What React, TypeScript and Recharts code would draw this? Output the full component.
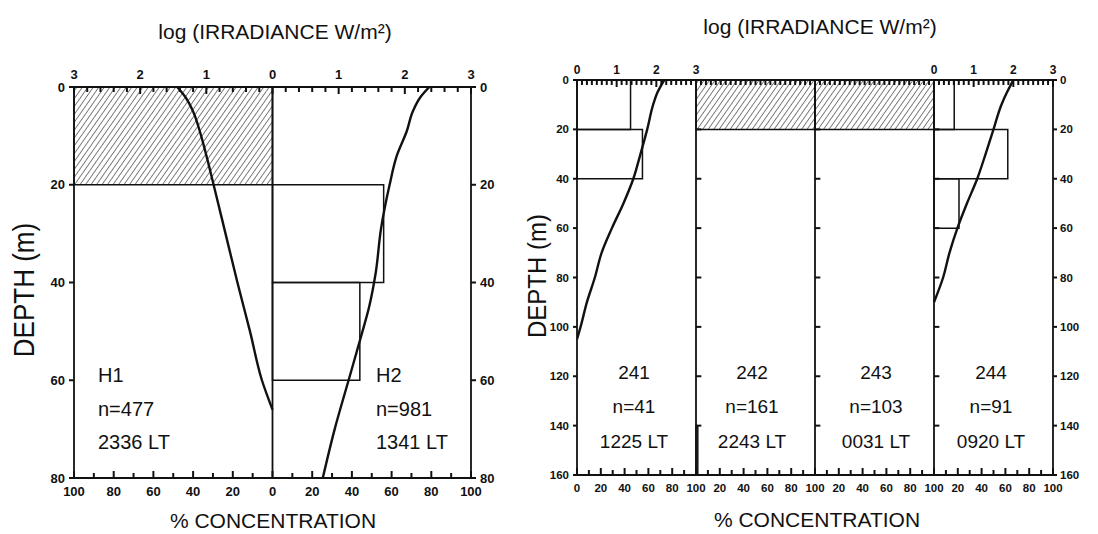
import React from 'react';
import { ComposedChart, XAxis, YAxis, Scatter, ReferenceArea, ReferenceLine } from 'recharts';

// left figure: H1 (mirrored to the left of 0) and H2
const h1Depth = [0, 2, 5, 9, 14, 20, 30, 40, 50, 60, 66];
const h1LogIrr = [1.44, 1.32, 1.2, 1.1, 1.0, 0.89, 0.71, 0.53, 0.34, 0.16, 0];
const h2Depth = [0, 2, 5, 9, 14, 20, 29, 38, 45, 50, 60, 70, 80];
const h2LogIrr = [2.37, 2.24, 2.12, 2.03, 1.88, 1.77, 1.64, 1.56, 1.46, 1.36, 1.15, 0.94, 0.76];

const leftBinEdges = [0, 20, 40, 60, 80];
const h1Pct = [100, 0, 0, 0];
const h2Pct = [0, 56, 44, 0];

// right figure: stations 241..244, depth bins of 20 m
const rightBinEdges = [0, 20, 40, 60, 80, 100, 120, 140, 160];
const s241Pct = [45, 55, 0, 0, 0, 0, 0, 0];
const s242Pct = [100, 0, 0, 0, 0, 0, 0, 1.5];
const s243Pct = [100, 0, 0, 0, 0, 0, 0, 0];
const s244Pct = [17, 62, 21, 0, 0, 0, 0, 0];

const s241Depth = [0, 5, 10, 20, 30, 40, 50, 60, 70, 80, 90, 100, 105];
const s241LogIrr = [2.2, 2.03, 1.92, 1.77, 1.6, 1.42, 1.17, 0.88, 0.62, 0.45, 0.25, 0.09, 0];
const s244Depth = [0, 5, 10, 20, 30, 40, 50, 60, 70, 80, 90];
const s244LogIrr = [2.0, 1.84, 1.7, 1.5, 1.3, 1.09, 0.83, 0.59, 0.39, 0.23, 0];

const stationNames = ['241', '242', '243', '244'];
const stationCounts = ['n=41', 'n=161', 'n=103', 'n=91'];
const stationTimes = ['1225 LT', '2243 LT', '0031 LT', '0920 LT'];

// axis ticks and labels
const leftDepthTicks = [0, 20, 40, 60, 80];
const rightDepthTicks = [0, 20, 40, 60, 80, 100, 120, 140, 160];
const leftConcMajor = [-100, -80, -60, -40, -20, 0, 20, 40, 60, 80, 100];
const leftConcLabels = ['100', '80', '60', '40', '20', '0', '20', '40', '60', '80', '100'];
const leftLogMajor = [-3, -2, -1, 0, 1, 2, 3];
const leftLogLabels = ['3', '2', '1', '0', '1', '2', '3'];
const rightLogMajor = [0, 1, 2, 3, 9, 10, 11, 12];
const rightLogLabels = ['0', '1', '2', '3', '0', '1', '2', '3'];

const steps = (a: number, b: number, s: number) => {
  const out: number[] = [];
  for (let i = 0; a + i * s <= b + 1e-9; i++) out.push(Math.round((a + i * s) * 1000) / 1000);
  return out;
};
const leftLogTicks = steps(-3, 3, 0.2);
const leftConcTicks = steps(-100, 100, 10);
const rightLogTicks = steps(0, 12, 0.125);
const rightConcTicks = steps(0, 400, 10);

const lookup = (major: number[], labels: string[]) => (v: number) => {
  const i = major.findIndex((m) => Math.abs(m - v) < 1e-6);
  return i >= 0 ? labels[i] : '';
};
const rightConcLabel = (v: number) =>
  v % 20 !== 0 ? '' : v === 0 ? '0' : v % 100 === 0 ? '100' : String(v % 100);

const INK = '#111';
const FONT = '"Liberation Sans", Arial, Helvetica, sans-serif';
const AXIS = { stroke: INK, strokeWidth: 1.8 };
const TICK = { stroke: INK, strokeWidth: 2 };
const LINE = { stroke: INK, strokeWidth: 2.4 };

const topTick = (label: (v: number) => string, fs: number, gap: number) => (p: any) => {
  const t = label(p.payload.value);
  return (
    <g>
      <path d={`M${p.x},${p.y}V${p.y + (t ? 7 : 5)}`} stroke={INK} strokeWidth={2} fill="none" />
      {t ? (
        <text x={p.x} y={p.y - gap} textAnchor="middle" fontSize={fs} fontWeight={700} fill={INK} fontFamily={FONT}>
          {t}
        </text>
      ) : null}
    </g>
  );
};

const bottomTick = (label: (v: number) => string, fs: number, gap: number) => (p: any) => {
  const t = label(p.payload.value);
  return (
    <g>
      <path d={`M${p.x},${p.y}V${p.y - (t ? 7 : 5)}`} stroke={INK} strokeWidth={2} fill="none" />
      {t ? (
        <text x={p.x} y={p.y + gap} textAnchor="middle" fontSize={fs} fontWeight={700} fill={INK} fontFamily={FONT}>
          {t}
        </text>
      ) : null}
    </g>
  );
};

const noDot = () => <g />;

const curve = (depth: number[], logI: number[], sign: number, offset: number) =>
  depth.map((d, i) => ({ depth: d, log: offset + sign * logI[i] }));

const bins = (key: string, edges: number[], pct: number[], sign: number, offset: number, hatchTop: boolean) =>
  pct.map((p, i) =>
    p > 0 ? (
      <ReferenceArea
        key={`${key}-${i}`}
        xAxisId="conc"
        yAxisId="d"
        x1={offset}
        x2={offset + sign * p}
        y1={edges[i]}
        y2={edges[i + 1]}
        fill={hatchTop && i === 0 ? 'url(#hatch)' : 'none'}
        fillOpacity={1}
        stroke={INK}
        strokeWidth={1.5}
        ifOverflow="visible"
      />
    ) : null
  );

function LeftFigure() {
  const h1 = curve(h1Depth, h1LogIrr, -1, 0);
  const h2 = curve(h2Depth, h2LogIrr, 1, 0);
  const depthTick = { fontSize: 13, fontWeight: 700, fill: INK, fontFamily: FONT };
  return (
    <ComposedChart width={540} height={534} margin={{ top: 63, right: 39, bottom: 32, left: 44 }}>
      {bins('h1', leftBinEdges, h1Pct, -1, 0, true)}
      {bins('h2', leftBinEdges, h2Pct, 1, 0, false)}
      <ReferenceLine xAxisId="conc" yAxisId="d" x={0} stroke={INK} strokeWidth={1.8} ifOverflow="visible" />
      <XAxis xAxisId="log" dataKey="log" type="number" orientation="top" domain={[-3, 3]} allowDataOverflow
        ticks={leftLogTicks} interval={0} height={24} tickSize={0} tickMargin={0} tickLine={false}
        axisLine={AXIS} tick={topTick(lookup(leftLogMajor, leftLogLabels), 13, 8)} />
      <XAxis xAxisId="conc" dataKey="conc" type="number" orientation="bottom" domain={[-100, 100]} allowDataOverflow
        ticks={leftConcTicks} interval={0} height={24} tickSize={0} tickMargin={0} tickLine={false}
        axisLine={AXIS} tick={bottomTick(lookup(leftConcMajor, leftConcLabels), 13, 18)} />
      <YAxis yAxisId="d" dataKey="depth" type="number" orientation="left" reversed domain={[0, 80]} allowDataOverflow
        ticks={leftDepthTicks} interval={0} width={30} tickSize={5} tickMargin={4}
        axisLine={AXIS} tickLine={TICK} tick={depthTick} />
      <YAxis yAxisId="d2" dataKey="depth" type="number" orientation="right" reversed domain={[0, 80]} allowDataOverflow
        ticks={leftDepthTicks} interval={0} width={30} tickSize={5} tickMargin={4}
        axisLine={AXIS} tickLine={TICK} tick={depthTick} />
      <Scatter xAxisId="log" yAxisId="d" data={h1} line={LINE} lineJointType="monotoneY" shape={noDot} isAnimationActive={false} />
      <Scatter xAxisId="log" yAxisId="d" data={h2} line={LINE} lineJointType="monotoneY" shape={noDot} isAnimationActive={false} />
    </ComposedChart>
  );
}

function RightFigure() {
  const pcts = [s241Pct, s242Pct, s243Pct, s244Pct];
  const hatched = [false, true, true, false];
  const c241 = curve(s241Depth, s241LogIrr, 1, 0);
  const c244 = curve(s244Depth, s244LogIrr, 1, 9);
  const depthTick = { fontSize: 11.5, fontWeight: 700, fill: INK, fontFamily: FONT };
  const borders = [100, 200, 300];
  const inner = [20, 40, 60, 80, 100, 120, 140];
  return (
    <ComposedChart width={558} height={534} margin={{ top: 56, right: 15, bottom: 35, left: 7 }}>
      {pcts.map((p, k) => bins(`s${k}`, rightBinEdges, p, 1, k * 100, hatched[k]))}
      {borders.map((b) => (
        <ReferenceLine key={`b${b}`} xAxisId="conc" yAxisId="d" x={b} stroke={INK} strokeWidth={1.8} ifOverflow="visible" />
      ))}
      {borders.map((b) =>
        inner.map((d) => (
          <ReferenceLine key={`t${b}-${d}`} xAxisId="conc" yAxisId="d" ifOverflow="visible"
            segment={[{ x: b, y: d }, { x: b + 4.5, y: d }]} stroke={INK} strokeWidth={2} />
        ))
      )}
      <XAxis xAxisId="log" dataKey="log" type="number" orientation="top" domain={[0, 12]} allowDataOverflow
        ticks={rightLogTicks} interval={0} height={24} tickSize={0} tickMargin={0} tickLine={false}
        axisLine={AXIS} tick={topTick(lookup(rightLogMajor, rightLogLabels), 12, 6)} />
      <XAxis xAxisId="conc" dataKey="conc" type="number" orientation="bottom" domain={[0, 400]} allowDataOverflow
        ticks={rightConcTicks} interval={0} height={24} tickSize={0} tickMargin={0} tickLine={false}
        axisLine={AXIS} tick={bottomTick(rightConcLabel, 11.5, 17)} />
      <YAxis yAxisId="d" dataKey="depth" type="number" orientation="left" reversed domain={[0, 160]} allowDataOverflow
        ticks={rightDepthTicks} interval={0} width={30} tickSize={4} tickMargin={4}
        axisLine={AXIS} tickLine={TICK} tick={depthTick} />
      <YAxis yAxisId="d2" dataKey="depth" type="number" orientation="right" reversed domain={[0, 160]} allowDataOverflow
        ticks={rightDepthTicks} interval={0} width={30} tickSize={4} tickMargin={3}
        axisLine={AXIS} tickLine={TICK} tick={depthTick} />
      <Scatter xAxisId="log" yAxisId="d" data={c241} line={LINE} lineJointType="monotoneY" shape={noDot} isAnimationActive={false} />
      <Scatter xAxisId="log" yAxisId="d" data={c244} line={LINE} lineJointType="monotoneY" shape={noDot} isAnimationActive={false} />
    </ComposedChart>
  );
}

export default function App() {
  const stationX = [634, 752, 876, 991];
  const rowY = [379, 413, 448];
  return (
    <div style={{ position: 'absolute', left: 0, top: 0, width: 1098, height: 534, background: '#fff', overflow: 'hidden', fontFamily: FONT }}>
      <svg width={0} height={0} style={{ position: 'absolute' }}>
        <defs>
          <pattern id="hatch" patternUnits="userSpaceOnUse" width={4.5} height={4.5} patternTransform="rotate(35)">
            <line x1={0} y1={0} x2={0} y2={4.5} stroke="#000" strokeWidth={1} />
          </pattern>
        </defs>
      </svg>
      <div style={{ position: 'absolute', left: 0, top: 0 }}>
        <LeftFigure />
      </div>
      <div style={{ position: 'absolute', left: 540, top: 0 }}>
        <RightFigure />
      </div>
      <svg width={1098} height={534} style={{ position: 'absolute', left: 0, top: 0, pointerEvents: 'none' }} fontFamily={FONT} fill={INK}>
        <text x={275} y={39} textAnchor="middle" fontSize={21}>log (IRRADIANCE W/m²)</text>
        <text x={820} y={34} textAnchor="middle" fontSize={21}>log (IRRADIANCE W/m²)</text>
        <text x={273} y={528} textAnchor="middle" fontSize={21}>% CONCENTRATION</text>
        <text x={817} y={527} textAnchor="middle" fontSize={21}>% CONCENTRATION</text>
        <text transform="translate(24,290) rotate(-90) scale(1,1.1)" textAnchor="middle" dominantBaseline="central" fontSize={26}>DEPTH (m)</text>
        <text transform="translate(537,276) rotate(-90) scale(1,1.1)" textAnchor="middle" dominantBaseline="central" fontSize={24}>DEPTH (m)</text>
        <text x={98} y={rowY[0] + 3} fontSize={20}>H1</text>
        <text x={98} y={rowY[1] + 3} fontSize={20}>n=477</text>
        <text x={98} y={rowY[2] + 1} fontSize={20}>2336 LT</text>
        <text x={376} y={rowY[0] + 3} fontSize={20}>H2</text>
        <text x={376} y={rowY[1] + 3} fontSize={20}>n=981</text>
        <text x={376} y={rowY[2] + 1} fontSize={20}>1341 LT</text>
        {stationNames.map((s, k) => (
          <g key={s}>
            <text x={stationX[k]} y={rowY[0]} textAnchor="middle" fontSize={19}>{s}</text>
            <text x={stationX[k]} y={rowY[1]} textAnchor="middle" fontSize={19}>{stationCounts[k]}</text>
            <text x={stationX[k]} y={rowY[2]} textAnchor="middle" fontSize={19}>{stationTimes[k]}</text>
          </g>
        ))}
      </svg>
    </div>
  );
}
